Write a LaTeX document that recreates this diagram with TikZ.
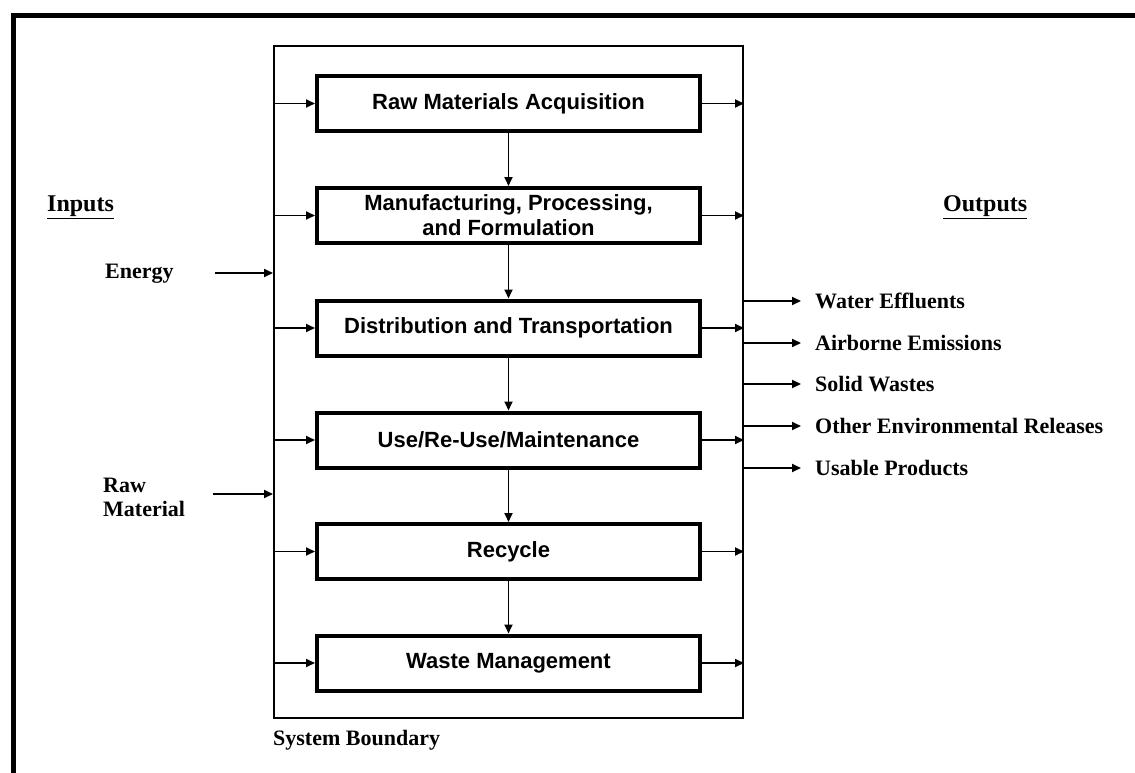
\documentclass[tikz,border=0pt]{standalone}
\usepackage{fontspec}
\setmainfont{Liberation Serif}
\newfontfamily\boxfont{Liberation Sans}
\usetikzlibrary{arrows.meta}

\begin{document}
\begin{tikzpicture}[x=1pt,y=-1pt,
  stage/.style={draw, line width=4pt, minimum width=383pt, minimum height=55pt,
    inner sep=0pt, align=center,
    font=\boxfont\bfseries\fontsize{22}{25}\selectfont},
  boundary/.style={draw, line width=2pt, minimum width=469pt, minimum height=672pt, inner sep=0pt},
  flow/.style={line width=1.8pt, -{Triangle[length=9pt,width=8pt]}},
  tag/.style={anchor=west, inner sep=0pt, align=left,
    font=\bfseries\fontsize{22}{24}\selectfont},
  head/.style={anchor=west, inner sep=0pt, font=\bfseries\fontsize{24}{26}\selectfont}
]
\useasboundingbox (0,0) rectangle (1135,773);

% page frame
\draw[line width=4.5pt] (13.5,773) -- (13.5,15.5) -- (1135,15.5);

% system boundary and the life-cycle stages
\node[boundary] (sb) at (508.5,382) {};
\node[stage] (s1) at (508.5,103.5) {Raw Materials Acquisition};
\node[stage] (s2) at (508.5,215.5) {Manufacturing, Processing,\\and Formulation};
\node[stage] (s3) at (508.5,328) {Distribution and Transportation};
\node[stage] (s4) at (508.5,440) {Use/Re-Use/Maintenance};
\node[stage] (s5) at (508.5,551.5) {Recycle};
\node[stage] (s6) at (508.5,663) {Waste Management};

% stage-to-stage flow
\foreach \a/\b in {s1/s2,s2/s3,s3/s4,s4/s5,s5/s6}
  \draw[flow] (\a.south) -- (\b.north);

% inputs to and outputs from each stage
\foreach \s in {s1,s2,s3,s4,s5,s6}{
  \draw[flow] (\s.west -| sb.west) -- (\s.west);
  \draw[flow] (\s.east) -- (\s.east -| sb.east);
}

% headings
\node[head] (inp) at (47,207) {\underline{Inputs}};
\node[head] (outp) at (943,207) {\underline{Outputs}};

% inputs
\node[tag] (energy) at (105,274) {Energy};
\coordinate (ein) at (215,273);
\draw[flow] (ein) -- (ein -| sb.west);
\node[tag] (raw) at (103,497) {Raw\\Material};
\coordinate (rin) at (213,494);
\draw[flow] (rin) -- (rin -| sb.west);

% outputs
\node[tag] (o1) at (815,301) {Water Effluents};
\node[tag] (o2) at (815,343) {Airborne Emissions};
\node[tag] (o3) at (815,384) {Solid Wastes};
\node[tag] (o4) at (815,426) {Other Environmental Releases};
\node[tag] (o5) at (815,468) {Usable Products};
\foreach \o in {o1,o2,o3,o4,o5}
  \draw[flow] (\o.west -| sb.east) -- ([xshift=-14pt]\o.west);

\node[tag] (sbl) at (273,740) {System Boundary};
\end{tikzpicture}
\end{document}
